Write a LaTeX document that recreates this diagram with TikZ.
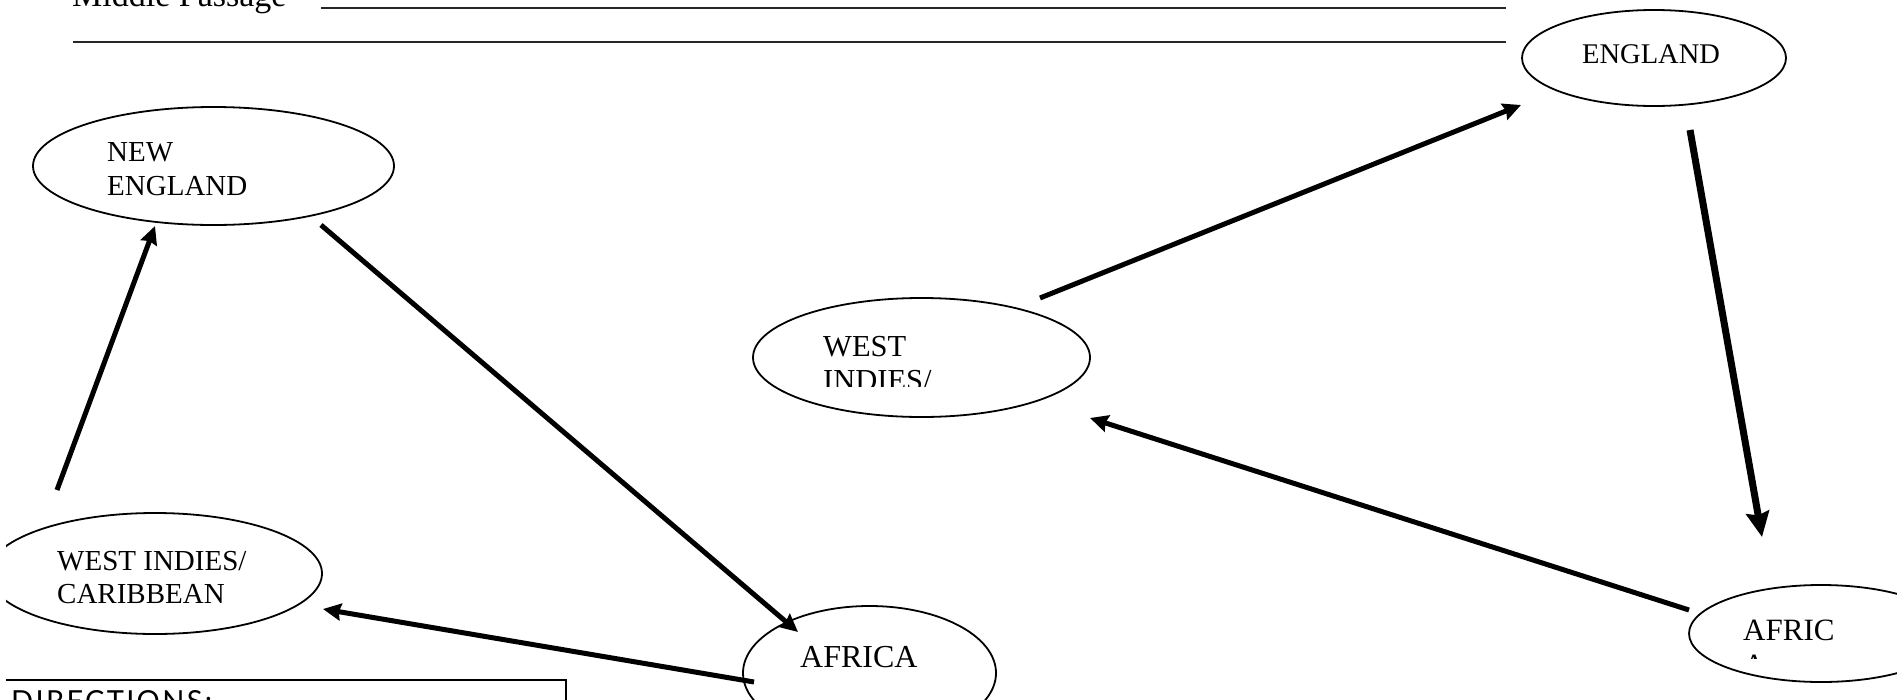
\documentclass[tikz,border=0pt]{standalone}
\usepackage{fontspec}
\setmainfont{Liberation Serif}
\newfontfamily\dirfont[LetterSpace=8]{Lato}
\usetikzlibrary{shapes.geometric,arrows.meta}
\begin{document}
\begin{tikzpicture}[x=1pt,y=-1pt,
  place/.style={ellipse,draw,line width=1.8pt,inner sep=0pt},
  lbl/.style={anchor=base west,inner sep=0pt,font=\fontsize{29}{34}\selectfont},
  flow/.style={line width=5pt,-{Stealth[length=18pt,width=17pt,inset=2pt]}},
  bigflow/.style={line width=7pt,-{Stealth[length=25pt,width=23pt,inset=3pt]}},
  rulestyle/.style={line width=1.8pt,black!85}
]
\useasboundingbox (0,0) rectangle (1897,699);
\clip (6,0) rectangle (1897,699);

% header
\node[anchor=base west,inner sep=0pt,font=\fontsize{34}{40}\selectfont] (mp) at (72,6) {Middle Passage};
\coordinate (r1a) at (321,8);  \coordinate (r1b) at (1506,8);
\coordinate (r2a) at (73,42);  \coordinate (r2b) at (1506,42);
\draw[rulestyle] (r1a) -- (r1b);
\draw[rulestyle] (r2a) -- (r2b);

% ellipses
\node[place,minimum width=264pt,minimum height=96pt] (eng) at (1654,58) {};
\node[place,minimum width=361pt,minimum height=118pt] (ne) at (213.5,166) {};
\node[place,minimum width=337pt,minimum height=119pt] (wim) at (921.5,357.5) {};
\node[place,minimum width=334pt,minimum height=121pt] (wic) at (155,573.5) {};
\node[place,minimum width=253pt,minimum height=134pt] (afr) at (869.5,673) {};
\node[place,minimum width=264pt,minimum height=97pt] (afrr) at (1821,633.5) {};

% labels
\node[lbl,font=\fontsize{28.5}{34}\selectfont] (teng) at (1582,63) {ENGLAND};
\node[lbl] (tne1) at (107,161) {NEW};
\node[lbl] (tne2) at (107,195) {ENGLAND};
\node[lbl,font=\fontsize{30.5}{34}\selectfont] (twim1) at (823,356) {WEST};
\begin{scope}
  \clip (790,330) rectangle (1000,386);
  \node[lbl,font=\fontsize{30.5}{34}\selectfont] (twim2) at (823,390) {INDIES/};
\end{scope}
\node[lbl] (twic1) at (57,570) {WEST INDIES/};
\node[lbl] (twic2) at (57,603) {CARIBBEAN};
\node[lbl,font=\fontsize{32}{36}\selectfont] (tafr) at (800,667) {AFRICA};
\node[lbl,font=\fontsize{31}{34}\selectfont] (tafrr1) at (1743,640) {AFRIC};
\begin{scope}
  \clip (1730,600) rectangle (1800,658.5);
  \node[lbl,font=\fontsize{31}{34}\selectfont] (tafrr2) at (1743,675) {A};
\end{scope}

% directions box
\draw[line width=1.8pt] (5,680) rectangle (566,760);
\node[anchor=base west,inner sep=0pt,font=\dirfont\fontsize{29}{34}\selectfont] (dir) at (11,711) {DIRECTIONS:};

% arrows
\coordinate (a1s) at (57,490);   \coordinate (a1e) at (155,226);
\coordinate (a2s) at (321,225);  \coordinate (a2e) at (798,632);
\coordinate (a3s) at (754,682);  \coordinate (a3e) at (323,609);
\coordinate (a4s) at (1040,298); \coordinate (a4e) at (1521,105);
\coordinate (a5s) at (1690,130); \coordinate (a5e) at (1762,537);
\coordinate (a6s) at (1689,610); \coordinate (a6e) at (1090,418);
\draw[flow] (a1s) -- (a1e);
\draw[flow] (a2s) -- (a2e);
\draw[flow] (a3s) -- (a3e);
\draw[flow] (a4s) -- (a4e);
\draw[bigflow] (a5s) -- (a5e);
\draw[flow] (a6s) -- (a6e);
\end{tikzpicture}
\end{document}
